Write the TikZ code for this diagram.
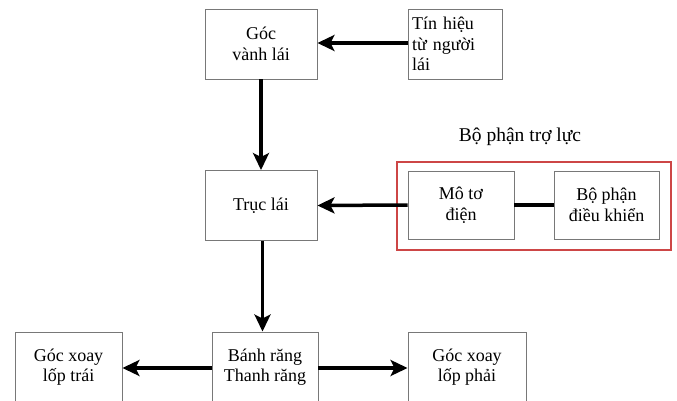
\documentclass[tikz,border=0pt]{standalone}
\usepackage{fontspec}
\setmainfont{Liberation Serif}
\usetikzlibrary{arrows.meta, positioning, calc}

\definecolor{boxgray}{RGB}{120,120,120}
\definecolor{groupred}{RGB}{205,70,70}

\tikzset{
  block/.style={draw=boxgray, line width=0.9pt, fill=white, align=center,
    minimum height=70pt, inner sep=2pt,
    font=\fontsize{18}{20.5}\selectfont},
  flow/.style={line width=3.5pt, -{Stealth[length=17pt, width=16pt, inset=4pt]}},
}

\begin{document}
\begin{tikzpicture}[x=1pt, y=-1pt]
  \useasboundingbox (0,0) rectangle (677,401);
  \clip (0,0) rectangle (677,401);

  % top row
  \node[block, minimum width=112pt] (goc) at (261,44) {Góc\\vành lái};
  \node[block, minimum width=94pt, align=left, text width=86pt] (tin) at (455,44)
    {Tín hiệu\\từ người\\lái};

  % steering shaft and assist unit
  \node[block, minimum width=112pt] (truc) at (261,205.5) {Trục lái};
  \node[block, minimum width=106pt, minimum height=68pt] (moto) at (461,205) {Mô tơ\\điện};
  \node[block, minimum width=105pt, minimum height=68pt] (dk) at (606.5,205) {Bộ phận\\điều khiển};
  \draw[groupred, line width=1.2pt] (397,162) rectangle (671,250);
  \node[font=\fontsize{19.5}{20}\selectfont] (troluc) at (520,137) {Bộ phận trợ lực};

  % bottom row
  \node[block, minimum width=106pt] (banh) at (265,367) {Bánh răng\\Thanh răng};
  \node[block, minimum width=107pt] (trai) at (68.5,367) {Góc xoay\\lốp trái};
  \node[block, minimum width=118pt] (phai) at (467,367) {Góc xoay\\lốp phải};

  % connections
  \draw[flow] (tin.west |- 0,43) -- (goc.east |- 0,43);
  \draw[flow] (goc.south) -- (truc.north);
  \draw[flow] (moto.west) -- (truc.east);
  \draw[line width=3.5pt] (moto.east) -- (dk.west);
  \draw[flow] ($(truc.south)+(1.5,0)$) -- ($(truc.south |- banh.north)+(1.5,0)$);
  \draw[flow] (banh.west |- 0,368) -- (trai.east |- 0,368);
  \draw[flow] (banh.east |- 0,368) -- (phai.west |- 0,368);
\end{tikzpicture}
\end{document}
